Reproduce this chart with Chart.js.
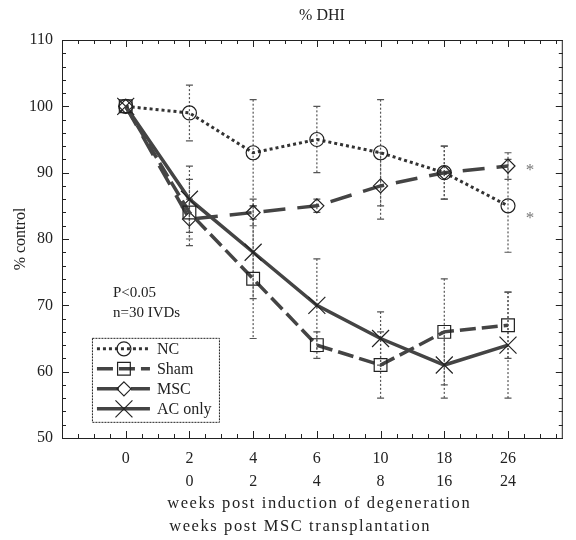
<!DOCTYPE html>
<html><head><meta charset="utf-8">
<script src="https://cdn.jsdelivr.net/npm/chart.js@4.4.0/dist/chart.umd.min.js"></script>
<style>html,body{margin:0;padding:0;background:#fff;}</style>
</head><body>
<canvas id="c" width="576" height="540" style="width:576px;height:540px;display:block"></canvas>
<script>
const chartTitle = '% DHI';
const yTitle = '% control';
const xTitle1 = 'weeks post induction of degeneration';
const xTitle2 = 'weeks post MSC transplantation';
const weeksDegeneration = ['0','2','4','6','10','18','26'];
const weeksMSC = ['','0','2','4','8','16','24'];
const ncValues   = [100, 99, 93, 95, 93, 90, 85];
const ncErrors   = [0, 4.2, 8, 5, 8, 4, 7];
const shamValues = [100, 84, 74, 64, 61, 66, 67];
const shamErrors = [0, 5, 9, 2, 5, 8, 5];
const mscValues  = [100, 83, 84, 85, 88, 90, 91];
const mscErrors  = [0, 3, 2, 1, 5, 4, 2];
const acValues   = [100, 86, 78, 70, 65, 61, 64];
const acErrors   = [0, 5, 7, 7, 4, 5, 8];
const annotations = ['P<0.05', 'n=30 IVDs'];

const FONT = "'Liberation Serif', 'Times New Roman', serif";
const INK = '#222';
const pts = arr => arr.map((v, i) => ({x: i, y: v}));

function drawMarker(ctx, style, x, y, r) {
  ctx.beginPath();
  if (style === 'circle') { ctx.arc(x, y, r, 0, Math.PI * 2); }
  else if (style === 'rect') { const s = r * Math.SQRT1_2; ctx.rect(x - s, y - s, 2 * s, 2 * s); }
  else if (style === 'rectRot') { ctx.moveTo(x, y - r); ctx.lineTo(x + r, y); ctx.lineTo(x, y + r); ctx.lineTo(x - r, y); ctx.closePath(); }
  else if (style === 'crossRot') { const s = r * Math.SQRT1_2; ctx.moveTo(x - s, y - s); ctx.lineTo(x + s, y + s); ctx.moveTo(x - s, y + s); ctx.lineTo(x + s, y - s); }
  ctx.stroke();
}

const errorBars = {
  id: 'errorBars',
  beforeDatasetsDraw(chart) {
    const ctx = chart.ctx, xs = chart.scales.x, ys = chart.scales.y;
    ctx.save();
    ctx.strokeStyle = '#555';
    ctx.lineWidth = 1.2;
    chart.data.datasets.forEach(ds => {
      (ds.errors || []).forEach((e, i) => {
        if (!e) return;
        const v = ds.data[i].y;
        const x = xs.getPixelForValue(i);
        const y1 = ys.getPixelForValue(v + e), y2 = ys.getPixelForValue(v - e);
        ctx.setLineDash([2, 2]);
        ctx.beginPath(); ctx.moveTo(x, y1); ctx.lineTo(x, y2); ctx.stroke();
        ctx.setLineDash([]);
        ctx.beginPath();
        ctx.moveTo(x - 3.5, y1); ctx.lineTo(x + 3.5, y1);
        ctx.moveTo(x - 3.5, y2); ctx.lineTo(x + 3.5, y2);
        ctx.stroke();
      });
    });
    ctx.restore();
  }
};

const decorations = {
  id: 'decorations',
  afterDraw(chart) {
    const ctx = chart.ctx, a = chart.chartArea, xs = chart.scales.x, ys = chart.scales.y;
    ctx.save();
    // frame
    ctx.strokeStyle = INK; ctx.lineWidth = 1; ctx.setLineDash([]);
    ctx.strokeRect(a.left + 0.5, a.top + 0.5, a.right - a.left - 1, a.bottom - a.top);
    // inward ticks
    ctx.beginPath();
    for (let v = ys.min; v <= ys.max + 0.01; v += 2) {
      const y = Math.round(ys.getPixelForValue(v)) + 0.5;
      const len = (v % 10 === 0) ? 7 : 4;
      ctx.moveTo(a.left, y); ctx.lineTo(a.left + len, y);
      ctx.moveTo(a.right, y); ctx.lineTo(a.right - len, y);
    }
    for (let v = -1; v <= xs.max + 0.001; v += 0.25) {
      const x = Math.round(xs.getPixelForValue(v)) + 0.5;
      const len = (Math.abs(v - Math.round(v)) < 0.01) ? 7 : 4;
      ctx.moveTo(x, a.bottom); ctx.lineTo(x, a.bottom - len);
      ctx.moveTo(x, a.top); ctx.lineTo(x, a.top + len);
    }
    ctx.stroke();
    // title
    ctx.fillStyle = INK;
    ctx.font = '16px ' + FONT;
    ctx.textAlign = 'center'; ctx.textBaseline = 'middle';
    ctx.fillText(chartTitle, xs.getPixelForValue(3.08), 16);
    // x titles (left aligned)
    ctx.textAlign = 'left';
    const tx = xs.getPixelForValue(0.65);
    ctx.font = '16.5px ' + FONT;
    if ('letterSpacing' in ctx) ctx.letterSpacing = '1.6px';
    ctx.fillText(xTitle1, tx, 504);
    ctx.fillText(xTitle2, tx + 2, 527);
    if ('letterSpacing' in ctx) ctx.letterSpacing = '0px';
    // annotations
    ctx.font = '15px ' + FONT;
    ctx.fillText(annotations[0], xs.getPixelForValue(-0.2), ys.getPixelForValue(71.9));
    ctx.fillText(annotations[1], xs.getPixelForValue(-0.2), ys.getPixelForValue(68.8));
    // significance stars
    ctx.fillStyle = '#777';
    ctx.font = '17px ' + FONT;
    ctx.textAlign = 'center';
    const xl = xs.getPixelForValue(6) + 22;
    ctx.fillText('*', xl, ys.getPixelForValue(mscValues[6]) + 4);
    ctx.fillText('*', xl, ys.getPixelForValue(ncValues[6]) + 13);
    // legend
    const lx = xs.getPixelForValue(-0.53), ly = ys.getPixelForValue(65.1);
    const lw = 127, lh = 84;
    ctx.fillStyle = '#fff';
    ctx.fillRect(lx, ly, lw, lh);
    ctx.strokeStyle = INK; ctx.lineWidth = 1;
    ctx.setLineDash([2, 1]);
    ctx.strokeRect(lx + 0.5, ly + 0.5, lw, lh);
    chart.data.datasets.forEach((ds, i) => {
      const y = ly + 11 + i * 20;
      ctx.strokeStyle = ds.borderColor;
      ctx.lineWidth = ds.borderWidth;
      ctx.setLineDash(ds.borderDash || []);
      ctx.beginPath(); ctx.moveTo(lx + 5, y); ctx.lineTo(lx + 58, y); ctx.stroke();
      ctx.setLineDash([]);
      ctx.lineWidth = 1.2;
      ctx.strokeStyle = INK;
      drawMarker(ctx, ds.pointStyle, lx + 32, y, ds.pointRadius);
      ctx.fillStyle = INK;
      ctx.font = '16px ' + FONT;
      ctx.textAlign = 'left';
      ctx.fillText(ds.label, lx + 65, y + 1);
    });
    ctx.restore();
  }
};

new Chart(document.getElementById('c'), {
  type: 'line',
  data: {
    datasets: [
      {label: 'NC', data: pts(ncValues), errors: ncErrors, borderColor: '#333', borderWidth: 3, borderDash: [3, 3],
       pointStyle: 'circle', pointRadius: 7, pointBorderColor: INK, pointBorderWidth: 1.2, pointBackgroundColor: 'rgba(0,0,0,0)'},
      {label: 'Sham', data: pts(shamValues), errors: shamErrors, borderColor: '#444', borderWidth: 3.5, borderDash: [16, 6],
       pointStyle: 'rect', pointRadius: 9, pointBorderColor: INK, pointBorderWidth: 1.2, pointBackgroundColor: 'rgba(0,0,0,0)'},
      {label: 'MSC', data: pts(mscValues), errors: mscErrors, borderColor: '#444', borderWidth: 3.5, borderDash: [22, 12],
       pointStyle: 'rectRot', pointRadius: 7, pointBorderColor: INK, pointBorderWidth: 1.2, pointBackgroundColor: 'rgba(0,0,0,0)'},
      {label: 'AC only', data: pts(acValues), errors: acErrors, borderColor: '#444', borderWidth: 3.5, borderDash: [],
       pointStyle: 'crossRot', pointRadius: 12, pointBorderColor: INK, pointBorderWidth: 1.2, pointBackgroundColor: 'rgba(0,0,0,0)'}
    ]
  },
  options: {
    responsive: false,
    animation: false,
    devicePixelRatio: 1,
    layout: {padding: {top: 40, right: 1, left: 0, bottom: 0}},
    plugins: {legend: {display: false}, tooltip: {enabled: false}, title: {display: false}},
    elements: {line: {tension: 0, fill: false}},
    scales: {
      x: {
        type: 'linear', min: -1, max: 6.86,
        afterBuildTicks: s => { s.ticks = weeksDegeneration.map((_, i) => ({value: i})); },
        afterFit: s => { s.height = 102; },
        grid: {drawOnChartArea: false, drawTicks: false},
        border: {display: true, color: INK, width: 1},
        ticks: {
          autoSkip: false, maxRotation: 0, padding: 9, color: INK,
          font: {family: FONT, size: 16, lineHeight: 1.45},
          callback: v => [weeksDegeneration[v], weeksMSC[v]]
        }
      },
      y: {
        min: 50, max: 110,
        afterFit: s => { s.width = 62; },
        grid: {drawOnChartArea: false, drawTicks: false},
        border: {display: true, color: INK, width: 1},
        ticks: {stepSize: 10, padding: 9, color: INK, font: {family: FONT, size: 16}},
        title: {display: true, text: yTitle, color: INK, font: {family: FONT, size: 16}, padding: {top: 11, bottom: 0}}
      }
    }
  },
  plugins: [errorBars, decorations]
});
</script>
</body></html>
